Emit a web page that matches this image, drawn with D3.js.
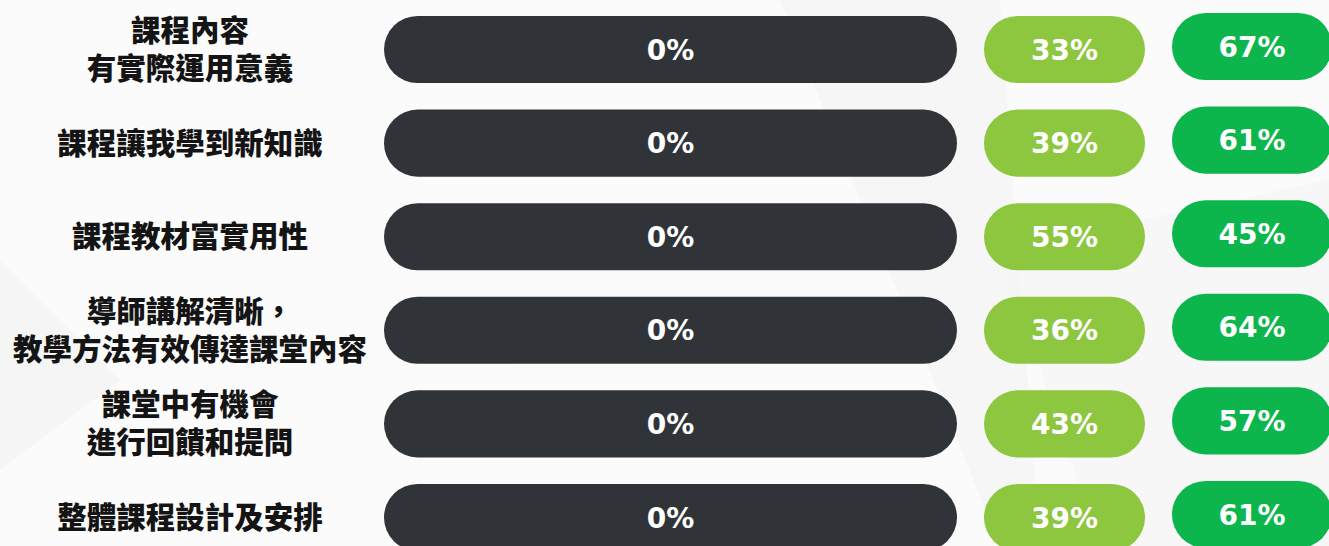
<!DOCTYPE html>
<html>
<head>
<meta charset="utf-8">
<script src="https://cdn.jsdelivr.net/npm/d3@7"></script>
<style>
html,body{margin:0;padding:0;background:#fafafa;}
svg{display:block;}
</style>
</head>
<body>
<svg id="chart" width="1329" height="546"></svg>
<script>
const categories = [
  ["課程內容", "有實際運用意義"],
  ["課程讓我學到新知識"],
  ["課程教材富實用性"],
  ["導師講解清晰，", "教學方法有效傳達課堂內容"],
  ["課堂中有機會", "進行回饋和提問"],
  ["整體課程設計及安排"]
];
const seriesNames = ["s0", "s1", "s2"];
const darkValues = [0, 0, 0, 0, 0, 0];
const lightGreenValues = [33, 39, 55, 36, 43, 39];
const greenValues = [67, 61, 45, 64, 57, 61];
const seriesColors = ["#303438", "#8dc63f", "#0cb64c"];

const W = 1329, H = 546;
const svg = d3.select("#chart");

// faint background shapes
const bg = svg.append("g");
bg.append("rect").attr("width", W).attr("height", H).attr("fill", "#fbfbfb");
bg.append("path").attr("d", "M780,0 L1000,0 L1040,546 L1000,546 Z").attr("fill", "#f3f3f3").attr("opacity", 0.6);
bg.append("path").attr("d", "M0,260 L120,380 L0,470 Z").attr("fill", "#f1f1f1").attr("opacity", 0.6);
bg.append("path").attr("d", "M1000,250 L1329,180 L1329,546 L1100,546 Z").attr("fill", "#f4f4f4").attr("opacity", 0.5);

const rows = d3.range(categories.length);
const y = d3.scaleBand().domain(rows).range([16, 551]).paddingInner(0.283).paddingOuter(0);

// columns: start / end x of each pill column
const colX0 = d3.scaleOrdinal().domain(seriesNames).range([384, 984, 1172]);
const colX1 = d3.scaleOrdinal().domain(seriesNames).range([957, 1145, 1332]);
const colDy = d3.scaleOrdinal().domain(seriesNames).range([0, 0, -3]);

const data = [];
rows.forEach(i => {
  [darkValues, lightGreenValues, greenValues].forEach((arr, j) => {
    data.push({row: i, s: seriesNames[j], v: arr[i], c: seriesColors[j]});
  });
});

const bh = y.bandwidth();
const g = svg.append("g");
const cells = g.selectAll("g.cell").data(data).join("g").attr("class", "cell");
cells.append("rect")
  .attr("x", d => colX0(d.s))
  .attr("y", d => y(d.row) + colDy(d.s))
  .attr("width", d => colX1(d.s) - colX0(d.s))
  .attr("height", bh)
  .attr("rx", bh / 2).attr("ry", bh / 2)
  .attr("fill", d => d.c);
cells.append("text")
  .attr("x", d => (colX0(d.s) + colX1(d.s)) / 2)
  .attr("y", d => y(d.row) + colDy(d.s) + bh / 2)
  .attr("dy", "0.36em")
  .attr("text-anchor", "middle")
  .attr("fill", "#ffffff")
  .attr("font-family", "'DejaVu Sans', sans-serif")
  .attr("font-weight", "bold")
  .attr("font-size", 28)
  .text(d => d.v + "%");

// labels
const labels = g.selectAll("text.label").data(categories).join("text")
  .attr("class", "label")
  .attr("text-anchor", "middle")
  .attr("font-family", "'Noto Sans CJK TC', sans-serif")
  .attr("font-weight", 900)
  .attr("font-size", 29.5)
  .attr("fill", "#141414");
labels.each(function(lines, i) {
  const cy = y(i) + bh / 2;
  const lh = 38;
  const start = cy - (lines.length - 1) * lh / 2;
  d3.select(this).selectAll("tspan").data(lines).join("tspan")
    .attr("x", 190)
    .attr("y", (l, k) => start + k * lh)
    .attr("dy", "0.36em")
    .text(l => l);
});
</script>
</body>
</html>
